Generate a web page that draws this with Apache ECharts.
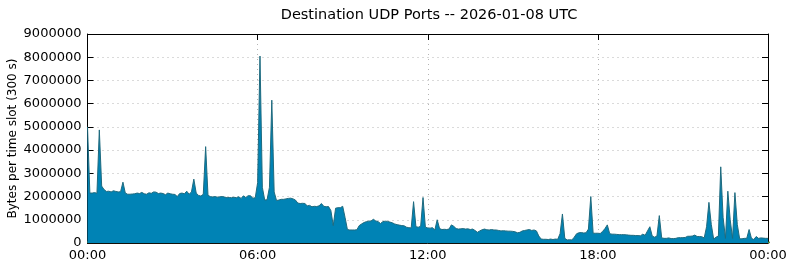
<!DOCTYPE html>
<html><head><meta charset="utf-8">
<script src="https://cdn.jsdelivr.net/npm/echarts@6/dist/echarts.min.js"></script>
<style>html,body{margin:0;padding:0;background:#fff}#c{width:790px;height:267px}</style>
</head><body><div id="c"></div>
<script>
// slot start times in minutes (300 s slots, 00:00 .. 24:00)
const slotMinutes = Array.from({length: 289}, (_, i) => i * 5);
const xTickLabels = ['00:00', '06:00', '12:00', '18:00', '00:00'];

// main (blue) layer, bytes per slot
const blueValues = [
5000000,2150000,2150000,2170000,2140000,4870000,2450000,2300000,2220000,2230000,2200000,2250000,2220000,2200000,2210000,2620000,2150000,2100000,2100000,2110000,2120000,2150000,2130000,2180000,
2120000,2100000,2160000,2140000,2200000,2190000,2130000,2150000,2130000,2080000,2150000,2120000,2100000,2090000,2000000,2130000,2150000,2120000,2230000,2100000,2200000,2750000,2150000,2050000,
2020000,2100000,4150000,2050000,2000000,1980000,2000000,1970000,1990000,2000000,1980000,1950000,1960000,1950000,1970000,1950000,1990000,1920000,2030000,1960000,2040000,2030000,1930000,1950000,
2600000,8050000,2400000,1850000,1860000,2400000,6150000,2200000,1830000,1850000,1880000,1880000,1900000,1920000,1930000,1900000,1850000,1720000,1700000,1710000,1700000,1600000,1620000,1560000,
1580000,1570000,1600000,1700000,1580000,1560000,1570000,1400000,750000,1500000,1520000,1520000,1580000,1100000,580000,560000,560000,560000,570000,750000,820000,880000,920000,940000,
950000,1020000,950000,920000,840000,920000,940000,930000,900000,870000,820000,790000,770000,750000,740000,680000,660000,650000,1780000,700000,680000,720000,1960000,680000,
650000,640000,660000,560000,1000000,620000,580000,590000,580000,600000,780000,720000,620000,600000,610000,620000,600000,610000,580000,600000,540000,460000,520000,570000,
600000,570000,560000,580000,560000,560000,540000,520000,530000,520000,510000,510000,500000,480000,440000,460000,520000,540000,560000,580000,540000,560000,520000,300000,
170000,160000,160000,150000,170000,150000,170000,160000,400000,1250000,200000,130000,140000,130000,250000,400000,440000,450000,430000,440000,600000,2000000,420000,420000,
420000,410000,500000,620000,780000,400000,380000,380000,370000,360000,360000,360000,350000,340000,330000,330000,320000,320000,310000,380000,330000,520000,700000,300000,
250000,300000,1180000,220000,200000,200000,220000,190000,190000,200000,230000,230000,230000,240000,290000,290000,300000,340000,280000,280000,270000,220000,700000,1750000,
800000,170000,250000,300000,3280000,1100000,200000,2230000,1000000,200000,2170000,800000,180000,180000,200000,200000,580000,200000,150000,280000,200000,220000,210000,200000,
200000];

// second (green) layer
const greenValues = [
60000,30000,30000,30000,30000,50000,40000,30000,30000,30000,30000,30000,30000,30000,30000,40000,30000,30000,30000,30000,30000,30000,30000,30000,
30000,30000,30000,30000,30000,30000,30000,30000,30000,30000,30000,30000,30000,30000,30000,30000,30000,30000,30000,30000,30000,40000,30000,30000,
30000,30000,50000,30000,30000,30000,30000,30000,30000,30000,30000,30000,30000,30000,30000,30000,30000,30000,30000,30000,30000,30000,30000,30000,
30000,60000,30000,30000,30000,30000,60000,30000,30000,30000,30000,30000,30000,30000,30000,30000,30000,30000,30000,30000,30000,30000,30000,30000,
30000,30000,30000,30000,30000,30000,30000,30000,40000,40000,40000,40000,40000,60000,110000,110000,110000,110000,110000,80000,80000,80000,80000,80000,
80000,110000,80000,80000,60000,60000,60000,60000,60000,60000,60000,60000,60000,60000,90000,50000,50000,50000,50000,40000,40000,40000,40000,40000,
40000,40000,40000,40000,70000,40000,40000,40000,40000,40000,40000,40000,40000,40000,40000,40000,40000,40000,40000,40000,40000,40000,40000,40000,
30000,30000,30000,30000,30000,30000,30000,30000,30000,30000,30000,30000,30000,30000,30000,30000,30000,30000,30000,30000,30000,30000,30000,30000,
20000,20000,20000,20000,20000,20000,20000,20000,20000,20000,20000,20000,20000,20000,20000,20000,20000,20000,20000,20000,20000,20000,20000,20000,
20000,20000,20000,20000,20000,20000,20000,20000,20000,20000,20000,20000,20000,20000,20000,20000,20000,20000,20000,20000,20000,20000,20000,20000,
20000,20000,20000,20000,20000,20000,20000,20000,20000,20000,20000,20000,20000,20000,20000,20000,20000,20000,20000,20000,20000,20000,20000,20000,
20000,20000,20000,20000,20000,20000,20000,20000,20000,20000,20000,20000,20000,20000,20000,20000,20000,20000,20000,20000,20000,20000,20000,20000,
20000];

// third (orange) layer
const orangeValues = [
5000,5000,5000,5000,5000,5000,5000,5000,5000,5000,5000,5000,5000,5000,5000,5000,5000,5000,5000,5000,5000,5000,5000,5000,
5000,5000,5000,5000,5000,5000,5000,5000,5000,5000,5000,5000,5000,5000,5000,5000,5000,5000,5000,5000,5000,5000,5000,5000,
5000,5000,5000,5000,5000,5000,5000,5000,5000,5000,5000,5000,5000,5000,5000,5000,5000,5000,5000,5000,5000,5000,5000,5000,
5000,5000,5000,5000,5000,5000,5000,5000,5000,5000,5000,5000,5000,5000,5000,5000,5000,5000,5000,5000,5000,5000,5000,5000,
5000,5000,5000,5000,5000,5000,5000,5000,5000,5000,5000,5000,5000,5000,5000,5000,5000,5000,5000,5000,5000,5000,5000,5000,
5000,5000,5000,5000,5000,5000,5000,5000,5000,5000,5000,5000,5000,5000,5000,5000,5000,5000,5000,5000,5000,5000,5000,5000,
10000,10000,10000,10000,10000,10000,10000,10000,10000,10000,10000,10000,10000,10000,10000,10000,10000,10000,10000,10000,10000,10000,10000,10000,
10000,10000,10000,10000,15000,15000,15000,15000,15000,15000,15000,15000,15000,10000,10000,10000,10000,10000,10000,10000,10000,10000,10000,10000,
10000,10000,10000,10000,10000,10000,10000,10000,10000,10000,10000,10000,10000,10000,10000,10000,10000,10000,10000,10000,10000,10000,10000,10000,
10000,10000,10000,10000,10000,10000,10000,10000,10000,10000,10000,10000,10000,10000,10000,10000,10000,10000,10000,10000,10000,10000,10000,10000,
10000,10000,10000,10000,80000,150000,40000,10000,80000,20000,10000,10000,10000,30000,10000,10000,10000,10000,10000,10000,10000,10000,10000,10000,
10000,10000,10000,10000,10000,10000,10000,10000,10000,10000,10000,10000,60000,60000,10000,10000,10000,10000,10000,10000,10000,10000,10000,10000,
10000];

const chart = echarts.init(document.getElementById('c'), null, {renderer: 'canvas'});
const FONT = 'DejaVu Sans';
const pair = arr => arr.map((v, i) => [slotMinutes[i], v]);
const fmtTime = v => xTickLabels[Math.round(v / 360)];
const gridLine = {show: true, lineStyle: {color: '#b4b4b4', type: [1, 4], width: 1}};

chart.setOption({
  animation: false,
  backgroundColor: '#ffffff',
  title: {
    text: 'Destination UDP Ports -- 2026-01-08 UTC',
    left: 424, top: 3, textAlign: 'center',
    textStyle: {fontFamily: FONT, fontSize: 14.5, fontWeight: 'normal', color: '#000'}
  },
  grid: {left: 87.5, right: 22, top: 34, bottom: 24, containLabel: false, outerBoundsMode: 'none'},
  xAxis: [{
    type: 'value', min: 0, max: 1440, interval: 360, position: 'bottom',
    axisLine: {show: true, onZero: false, lineStyle: {color: '#000', width: 1}},
    axisTick: {show: true, inside: true, length: 6, lineStyle: {color: '#000'}},
    axisLabel: {formatter: fmtTime, fontFamily: FONT, fontSize: 13, color: '#000', margin: 6},
    splitLine: gridLine
  }, {
    type: 'value', min: 0, max: 1440, interval: 360, position: 'top',
    axisLine: {show: true, onZero: false, lineStyle: {color: '#000', width: 1}},
    axisTick: {show: true, inside: true, length: 6, lineStyle: {color: '#000'}},
    axisLabel: {show: false}, splitLine: {show: false}
  }],
  yAxis: [{
    type: 'value', min: 0, max: 9000000, interval: 1000000, position: 'left',
    name: 'Bytes per time slot (300 s)', nameLocation: 'middle', nameGap: 69, nameRotate: 90,
    nameMoveOverlap: false,
    nameTextStyle: {fontFamily: FONT, fontSize: 12, color: '#000'},
    axisLine: {show: true, onZero: false, lineStyle: {color: '#000', width: 1}},
    axisTick: {show: true, inside: true, length: 6, lineStyle: {color: '#000'}},
    axisLabel: {formatter: v => String(v), fontFamily: FONT, fontSize: 13, color: '#000', margin: 6},
    splitLine: gridLine
  }, {
    type: 'value', min: 0, max: 9000000, interval: 1000000, position: 'right',
    axisLine: {show: true, onZero: false, lineStyle: {color: '#000', width: 1}},
    axisTick: {show: true, inside: true, length: 6, lineStyle: {color: '#000'}},
    axisLabel: {show: false}, splitLine: {show: false}
  }],
  series: [
    {name: 'blue', type: 'line', stack: 'total', data: pair(blueValues), symbol: 'none',
     lineStyle: {width: 1, color: '#1f6a7e'}, areaStyle: {color: '#0083b5', opacity: 1}, z: 3},
    {name: 'green', type: 'line', stack: 'total', data: pair(greenValues), symbol: 'none',
     lineStyle: {width: 0.8, color: '#4d7d3a'}, areaStyle: {color: '#5ba33c', opacity: 1}, z: 2},
    {name: 'orange', type: 'line', stack: 'total', data: pair(orangeValues), symbol: 'none',
     lineStyle: {width: 0.8, color: '#7a6a3a'}, areaStyle: {color: '#e69f00', opacity: 1}, z: 1}
  ]
});
</script></body></html>
